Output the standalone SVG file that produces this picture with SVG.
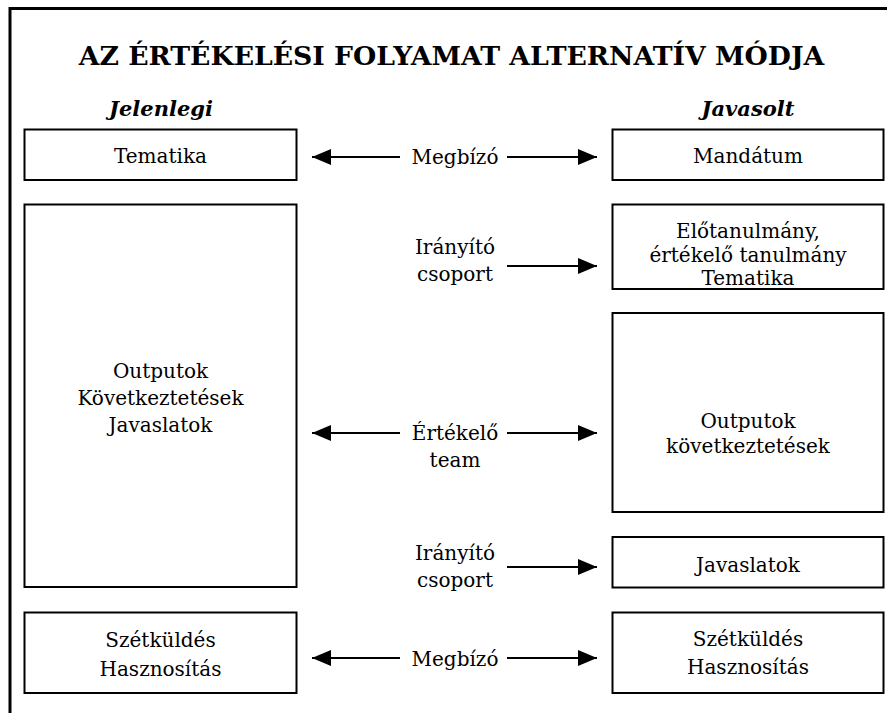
<svg xmlns="http://www.w3.org/2000/svg" width="887" height="713" viewBox="0 0 887 713">
  <style>
    .frame { fill: none; stroke: #000; stroke-width: 3; }
    .box { fill: #fff; stroke: #000; stroke-width: 2; }
    text { font-family: "DejaVu Serif", "Liberation Serif", serif; fill: #000; text-anchor: middle; }
    .title { font-weight: bold; font-size: 26.7px; }
    .head { font-weight: bold; font-style: italic; font-size: 21px; }
    .lbl { font-size: 20px; }
    .conn { stroke: #000; stroke-width: 2; fill: none; marker-end: url(#arrow); }
  </style>
  <defs>
    <marker id="arrow" markerUnits="userSpaceOnUse" markerWidth="20" markerHeight="17" refX="19" refY="8" orient="auto">
      <path d="M0,0 L19,8 L0,16 Z" fill="#000"/>
    </marker>
  </defs>

  <rect width="887" height="713" fill="#fff"/>
  <path class="frame" d="M10,713 V8.5 H887"/>

  <text class="title" x="451.5" y="65">AZ ÉRTÉKELÉSI FOLYAMAT ALTERNATÍV MÓDJA</text>
  <text class="head" x="161" y="116">Jelenlegi</text>
  <text class="head" x="748" y="116">Javasolt</text>

  <!-- current process (left column) -->
  <g id="cur-tematika">
    <rect class="box" x="24.5" y="129.5" width="272" height="50.5"/>
    <text class="lbl" x="160.5" y="163">Tematika</text>
  </g>
  <g id="cur-outputok">
    <rect class="box" x="24.5" y="204.5" width="272" height="382.5"/>
    <text class="lbl" x="160.5" y="378">Outputok</text>
    <text class="lbl" x="160.5" y="405">Következtetések</text>
    <text class="lbl" x="160.5" y="432">Javaslatok</text>
  </g>
  <g id="cur-szetkuldes">
    <rect class="box" x="24.5" y="612.5" width="272" height="80.5"/>
    <text class="lbl" x="160.5" y="647">Szétküldés</text>
    <text class="lbl" x="160.5" y="676">Hasznosítás</text>
  </g>

  <!-- proposed process (right column) -->
  <g id="prop-mandatum">
    <rect class="box" x="612.5" y="129.5" width="271" height="50.5"/>
    <text class="lbl" x="748" y="163">Mandátum</text>
  </g>
  <g id="prop-elotanulmany">
    <rect class="box" x="612.5" y="204.5" width="271" height="84.5"/>
    <text class="lbl" x="748" y="238">Előtanulmány,</text>
    <text class="lbl" x="748" y="262">értékelő tanulmány</text>
    <text class="lbl" x="748" y="285">Tematika</text>
  </g>
  <g id="prop-outputok">
    <rect class="box" x="612.5" y="313" width="271" height="199"/>
    <text class="lbl" x="748" y="428">Outputok</text>
    <text class="lbl" x="748" y="453">következtetések</text>
  </g>
  <g id="prop-javaslatok">
    <rect class="box" x="612.5" y="537" width="271" height="50.5"/>
    <text class="lbl" x="748" y="572">Javaslatok</text>
  </g>
  <g id="prop-szetkuldes">
    <rect class="box" x="612.5" y="612.5" width="271" height="80.5"/>
    <text class="lbl" x="748" y="646">Szétküldés</text>
    <text class="lbl" x="748" y="674">Hasznosítás</text>
  </g>

  <!-- actor labels -->
  <g id="actor-megbizo-1">
    <text class="lbl" x="455" y="164">Megbízó</text>
  </g>
  <g id="actor-iranyito-1">
    <text class="lbl" x="455" y="254">Irányító</text>
    <text class="lbl" x="455" y="281">csoport</text>
  </g>
  <g id="actor-ertekelo">
    <text class="lbl" x="455" y="440">Értékelő</text>
    <text class="lbl" x="455" y="467">team</text>
  </g>
  <g id="actor-iranyito-2">
    <text class="lbl" x="455" y="560">Irányító</text>
    <text class="lbl" x="455" y="587">csoport</text>
  </g>
  <g id="actor-megbizo-2">
    <text class="lbl" x="455" y="666">Megbízó</text>
  </g>

  <!-- connectors -->
  <g id="connectors">
    <line class="conn" x1="400" y1="157" x2="312" y2="157"/>
    <line class="conn" x1="507" y1="157" x2="597" y2="157"/>
    <line class="conn" x1="507" y1="266" x2="597" y2="266"/>
    <line class="conn" x1="400" y1="433" x2="312" y2="433"/>
    <line class="conn" x1="507" y1="433" x2="597" y2="433"/>
    <line class="conn" x1="507" y1="567" x2="597" y2="567"/>
    <line class="conn" x1="400" y1="658" x2="312" y2="658"/>
    <line class="conn" x1="507" y1="658" x2="597" y2="658"/>
  </g>
</svg>
